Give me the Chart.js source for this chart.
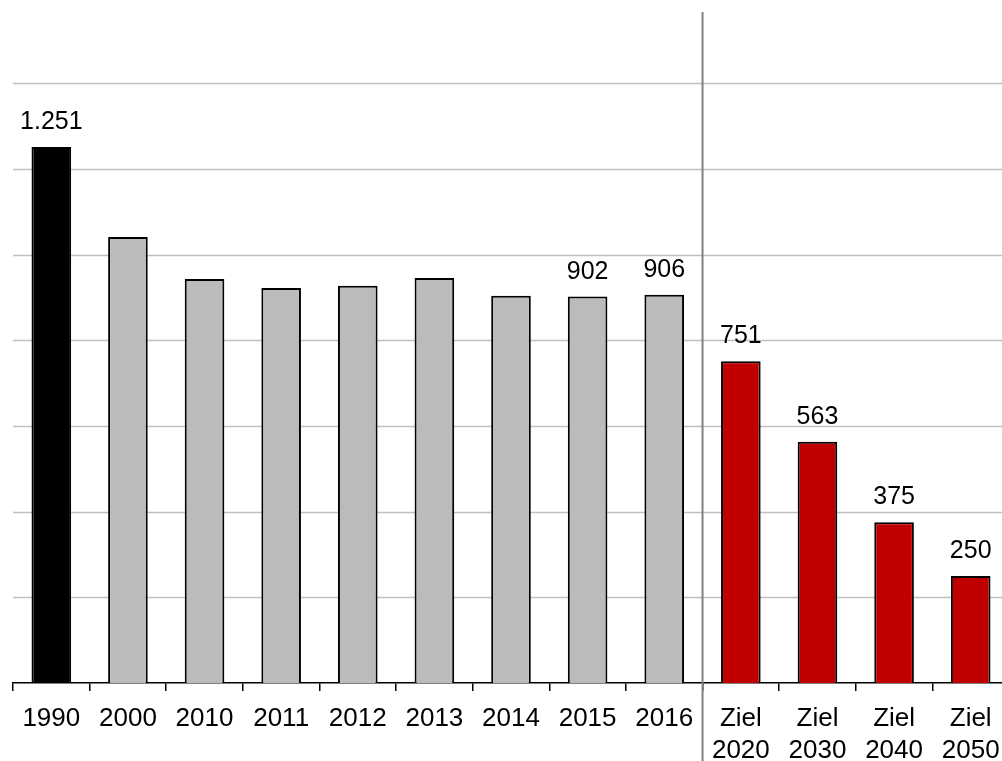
<!DOCTYPE html>
<html>
<head>
<meta charset="utf-8">
<script src="https://cdn.jsdelivr.net/npm/chart.js@4/dist/chart.umd.min.js"></script>
<style>
  html, body { margin: 0; padding: 0; background: #fff; overflow: hidden; }
  #wrap { width: 1009px; height: 761px; }
</style>
</head>
<body>
<div id="wrap"><canvas id="c" width="1009" height="761"></canvas></div>
<script>
const categories = [['1990'], ['2000'], ['2010'], ['2011'], ['2012'], ['2013'], ['2014'], ['2015'], ['2016'],
  ['Ziel', '2020'], ['Ziel', '2030'], ['Ziel', '2040'], ['Ziel', '2050']];
const emissions = [1251, 1041, 943, 922, 927, 945, 904, 902, 906, 751, 563, 375, 250];
const labeledCategories = ['1990', '2015', '2016', '2020', '2030', '2040', '2050'];
const yTickStep = 200;
const yMax = 1566;

function fmtDE(v) {
  return String(v).replace(/\B(?=(\d{3})+(?!\d))/g, '.');
}
function colorFor(i) {
  const lab = categories[i];
  if (lab[0] === 'Ziel') return '#c00000';
  if (i === 0) return '#000000';
  return '#bbbbbb';
}

const FONT = "'Liberation Sans', Arial, Helvetica, sans-serif";

const valueLabels = {
  id: 'valueLabels',
  afterDatasetsDraw(chart) {
    const ctx = chart.ctx;
    const meta = chart.getDatasetMeta(0);
    ctx.save();
    ctx.font = '25px ' + FONT;
    ctx.fillStyle = '#000';
    ctx.textAlign = 'center';
    ctx.textBaseline = 'alphabetic';
    meta.data.forEach((bar, i) => {
      const lab = categories[i][categories[i].length - 1];
      if (labeledCategories.includes(lab)) {
        ctx.fillText(fmtDE(emissions[i]), bar.x, bar.y - 18);
      }
    });
    ctx.restore();
  }
};

const divider = {
  id: 'divider',
  afterDraw(chart) {
    const x = chart.scales.x;
    const i = categories.findIndex(c => c[0] === 'Ziel');
    const px = (x.getPixelForValue(i - 1) + x.getPixelForValue(i)) / 2;
    const ctx = chart.ctx;
    ctx.save();
    ctx.strokeStyle = '#808080';
    ctx.lineWidth = 2;
    ctx.beginPath();
    ctx.moveTo(px, chart.chartArea.top);
    ctx.lineTo(px, chart.height);
    ctx.stroke();
    ctx.restore();
  }
};

const hGrid = {
  id: 'hGrid',
  beforeDatasetsDraw(chart) {
    const y = chart.scales.y;
    const area = chart.chartArea;
    const ctx = chart.ctx;
    ctx.save();
    ctx.strokeStyle = '#c0c0c0';
    ctx.lineWidth = 1.5;
    for (let v = yTickStep; v < yMax; v += yTickStep) {
      const py = Math.round(y.getPixelForValue(v)) + 0.5;
      ctx.beginPath();
      ctx.moveTo(area.left, py);
      ctx.lineTo(area.right, py);
      ctx.stroke();
    }
    ctx.restore();
  }
};

new Chart(document.getElementById('c'), {
  type: 'bar',
  data: {
    labels: categories,
    datasets: [{
      data: emissions,
      backgroundColor: emissions.map((v, i) => colorFor(i)),
      borderColor: '#000',
      borderWidth: 2,
      barPercentage: 0.517,
      categoryPercentage: 1.0
    }]
  },
  options: {
    responsive: false,
    animation: false,
    layout: { padding: { top: 12, left: 0, right: 0, bottom: 0 } },
    plugins: { legend: { display: false }, tooltip: { enabled: false } },
    scales: {
      x: {
        offset: true,
        grid: {
          offset: true,
          drawOnChartArea: false,
          drawTicks: true,
          tickLength: 8,
          color: '#000',
          lineWidth: 1.5
        },
        border: { display: true, color: '#000', width: 1.5 },
        ticks: {
          color: '#000',
          font: { family: FONT, size: 26, lineHeight: 1.23 },
          padding: 12,
          maxRotation: 0,
          autoSkip: false
        },
        afterFit(scale) {
          scale.height = 78;
          scale.paddingLeft = 0;
          scale.paddingRight = 0;
        }
      },
      y: {
        min: 0,
        max: yMax,
        ticks: { display: false, stepSize: yTickStep },
        grid: { display: false },
        border: { display: false },
        afterFit(scale) {
          scale.width = 13;
          scale.paddingTop = 0;
          scale.paddingBottom = 0;
        }
      }
    }
  },
  plugins: [hGrid, valueLabels, divider]
});
</script>
</body>
</html>
